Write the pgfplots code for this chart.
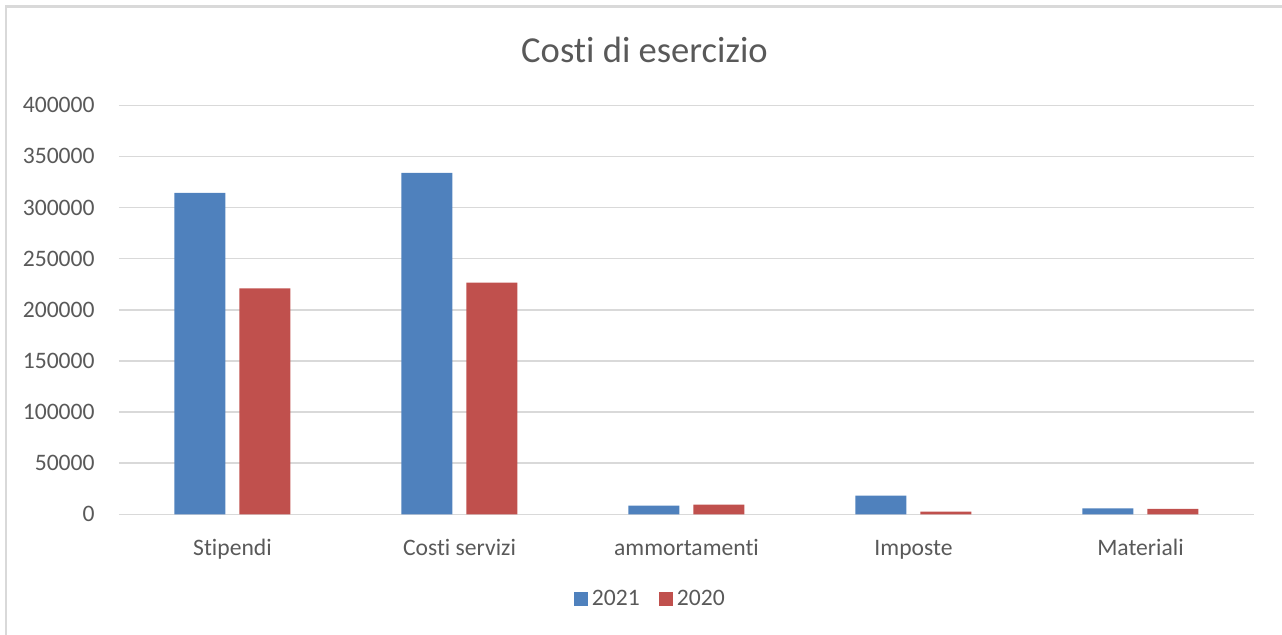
\documentclass[border=0pt]{standalone}
\usepackage{pgfplots}
\pgfplotsset{compat=1.18}
\usepackage{fontspec}
\setmainfont[RawFeature={-liga;-clig;-calt;-dlig}]{Carlito}
\definecolor{txt}{HTML}{595959}
\definecolor{grd}{HTML}{D9D9D9}
\definecolor{cblue}{HTML}{4F81BD}
\definecolor{cred}{HTML}{C0504D}
\begin{document}
\begin{tikzpicture}
\path[use as bounding box] (0,0) rectangle (641pt,317.5pt);
\draw[grd, line width=1.2pt] (3pt,0) -- (3pt,314.3pt) -- (645pt,314.3pt);
\node[anchor=base, text=txt, font=\fontsize{18.3pt}{22pt}\selectfont] at (322.25pt,286pt) {Costi di esercizio};
\begin{axis}[
  at={(59.5pt,60.35pt)}, anchor=south west,
  scale only axis, width=567.5pt, height=204.5pt,
  ybar=7pt, bar width=25.5pt,
  xmin=-0.5, xmax=4.5, ymin=0, ymax=400000,
  xtick=data,
  xticklabels={Stipendi,Costi servizi,ammortamenti,Imposte,Materiali},
  ytick={0,50000,...,400000},
  scaled y ticks=false,
  yticklabel style={/pgf/number format/fixed, /pgf/number format/1000 sep={}},
  /pgf/number format/assume math mode=true,
  axis line style={draw=none},
  tick style={draw=none},
  ymajorgrids, grid style={grd, line width=0.75pt},
  ticklabel style={text=txt, font=\fontsize{11.8pt}{14pt}\selectfont},
  yticklabel style={anchor=east, inner sep=0pt, xshift=-12pt},
  xticklabel style={anchor=base, inner sep=0pt, yshift=-16.4pt},
  legend columns=2,
  legend style={at={(0.469,-0.207)}, anchor=center, draw=none, fill=none,
    text=txt, font=\fontsize{11.8pt}{14pt}\selectfont,
    nodes={inner sep=1.8pt},
    /tikz/every even column/.append style={column sep=8pt}},
]
\addplot[fill=cblue, draw=none,
  legend image code/.code={\fill[cblue] (0pt,-3.5pt) rectangle (7pt,3.5pt);}]
  coordinates {(0,314400) (1,333900) (2,8500) (3,18300) (4,5900)};
\addlegendentry{2021}
\addplot[fill=cred, draw=none,
  legend image code/.code={\fill[cred] (0pt,-3.5pt) rectangle (7pt,3.5pt);}]
  coordinates {(0,221000) (1,226500) (2,9500) (3,2600) (4,5300)};
\addlegendentry{2020}
\end{axis}
\end{tikzpicture}
\end{document}
